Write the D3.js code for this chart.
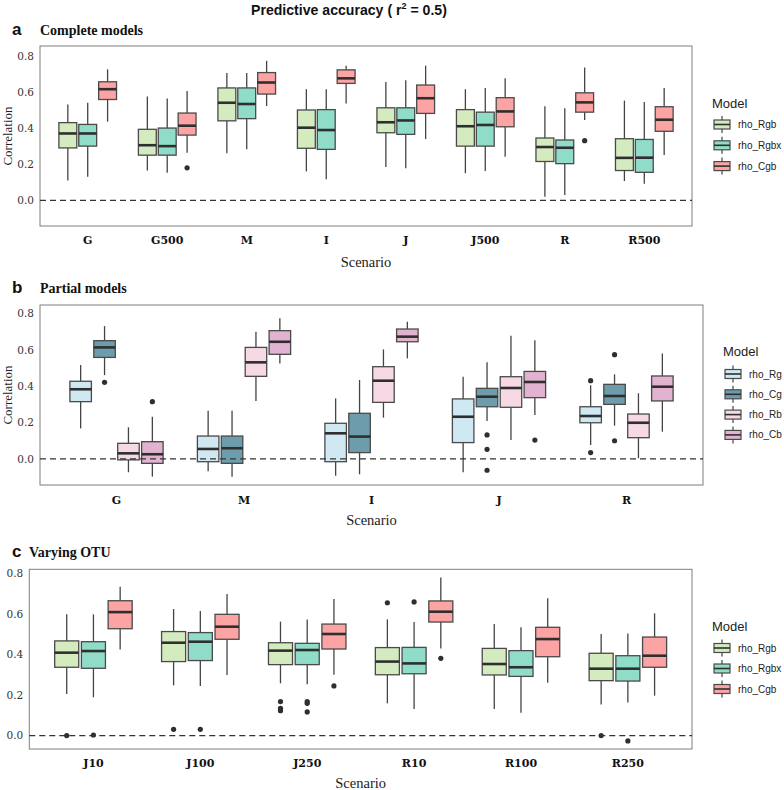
<!DOCTYPE html>
<html>
<head>
<meta charset="utf-8">
<script src="https://cdn.jsdelivr.net/npm/d3@7"></script>
<style>
  html, body { margin: 0; padding: 0; background: #fff; }
  svg { display: block; }
</style>
</head>
<body>
<svg id="chart" width="784" height="790"></svg>
<script>
// ---------------- DATA ----------------
// each box: [min whisker, q1, median, q3, max whisker]
const catsA = ["G", "G500", "M", "I", "J", "J500", "R", "R500"];
const modelsA = ["rho_Rgb", "rho_Rgbx", "rho_Cgb"];
const aRgb = [[0.11,0.29,0.37,0.43,0.53],[0.165,0.25,0.305,0.393,0.575],[0.26,0.44,0.54,0.622,0.705],[0.16,0.288,0.402,0.50,0.615],[0.185,0.374,0.432,0.512,0.655],[0.15,0.30,0.41,0.502,0.615],[0.02,0.215,0.295,0.345,0.52],[0.107,0.165,0.235,0.341,0.552]];
const aRgbx = [[0.13,0.30,0.37,0.42,0.54],[0.153,0.25,0.30,0.40,0.563],[0.282,0.452,0.533,0.622,0.705],[0.116,0.282,0.389,0.502,0.615],[0.177,0.365,0.442,0.512,0.665],[0.162,0.30,0.417,0.488,0.622],[0.029,0.203,0.291,0.334,0.509],[0.092,0.155,0.236,0.337,0.544]];
const aCgb = [[0.435,0.558,0.615,0.656,0.725],[0.264,0.361,0.413,0.483,0.605],[0.522,0.588,0.652,0.707,0.772],[0.536,0.647,0.675,0.722,0.745],[0.339,0.481,0.565,0.638,0.745],[0.241,0.407,0.492,0.568,0.675],[0.444,0.488,0.542,0.595,0.735],[0.251,0.382,0.446,0.518,0.622]];
const aRgbOut = [[],[],[],[],[],[],[],[]];
const aRgbxOut = [[],[],[],[],[],[],[],[]];
const aCgbOut = [[],[0.18],[],[],[],[],[0.33],[]];

const catsB = ["G", "M", "I", "J", "R"];
const modelsB = ["rho_Rg", "rho_Cg", "rho_Rb", "rho_Cb"];
const bRg = [[0.168,0.315,0.383,0.427,0.516],[-0.068,-0.015,0.055,0.126,0.265],[-0.092,-0.015,0.141,0.196,0.333],[-0.073,0.09,0.232,0.33,0.452],[0.077,0.199,0.236,0.287,0.405]];
const bCg = [[0.461,0.558,0.613,0.65,0.73],[-0.097,-0.024,0.059,0.126,0.265],[-0.084,0.035,0.123,0.251,0.434],[0.209,0.287,0.342,0.388,0.531],[0.183,0.30,0.346,0.41,0.465]];
const bRb = [[-0.073,-0.005,0.031,0.086,0.174],[0.319,0.454,0.531,0.613,0.699],[0.227,0.311,0.43,0.507,0.602],[0.104,0.284,0.39,0.452,0.677],[0.004,0.117,0.199,0.247,0.361]];
const bCb = [[-0.097,-0.024,0.026,0.095,0.232],[0.525,0.575,0.644,0.705,0.773],[0.553,0.644,0.672,0.714,0.754],[0.242,0.337,0.423,0.481,0.652],[0.15,0.319,0.397,0.456,0.58]];
const bRgOut = [[],[],[],[],[0.43,0.035]];
const bCgOut = [[0.421],[],[],[0.132,0.053,-0.062],[0.573,0.10]];
const bRbOut = [[],[],[],[],[]];
const bCbOut = [[0.315],[],[],[0.104],[]];

const catsC = ["J10", "J100", "J250", "R10", "R100", "R250"];
const modelsC = ["rho_Rgb", "rho_Rgbx", "rho_Cgb"];
const cRgb = [[0.205,0.337,0.409,0.467,0.598],[0.248,0.365,0.458,0.513,0.624],[0.258,0.35,0.419,0.458,0.562],[0.159,0.30,0.365,0.434,0.573],[0.131,0.299,0.353,0.43,0.55],[0.154,0.271,0.33,0.406,0.501]];
const cRgbx = [[0.189,0.332,0.417,0.463,0.598],[0.245,0.37,0.463,0.508,0.614],[0.253,0.35,0.422,0.455,0.573],[0.131,0.305,0.356,0.435,0.56],[0.113,0.292,0.337,0.419,0.534],[0.163,0.269,0.33,0.394,0.504]];
const cCgb = [[0.425,0.527,0.609,0.665,0.734],[0.299,0.475,0.537,0.598,0.698],[0.30,0.427,0.501,0.55,0.673],[0.43,0.56,0.611,0.664,0.78],[0.261,0.389,0.476,0.534,0.677],[0.197,0.337,0.394,0.486,0.603]];
const cRgbOut = [[0.0],[0.031],[0.168,0.135,0.123],[0.655],[],[0.0]];
const cRgbxOut = [[0.003],[0.031],[0.168,0.159,0.117],[0.659],[],[-0.026]];
const cCgbOut = [[],[],[0.245],[0.381],[],[]];

const yTicks = [0.0, 0.2, 0.4, 0.6, 0.8];
const coloursA = ["#d4ebc0", "#8fdcc8", "#fca3a3"];
const coloursB = ["#cfe8f2", "#6d9dac", "#f7d9e6", "#e2b3d0"];

// ---------------- DRAW ----------------
const svg = d3.select("#chart");
const serif = "'Liberation Serif', serif";
const serifWide = "'DejaVu Serif', serif";
const sans = "'Liberation Sans', Arial, sans-serif";

// title
const tg = svg.append("g");
const tt = tg.append("text").attr("x", 0).attr("y", 0)
  .attr("font-family", sans).attr("font-weight", "bold").attr("font-size", 14).attr("fill", "#111");
tt.append("tspan").text("Predictive accuracy ( r");
tt.append("tspan").attr("font-size", 9).attr("dy", -6).text("2");
tt.append("tspan").attr("dy", 6).text(" = 0.5)");
const tw = tt.node().getComputedTextLength();
const sx = 196 / tw;
tg.attr("transform", `translate(${349 - 98},15) scale(${sx},1)`);

function panel(cfg) {
  const g = svg.append("g");
  const x = d3.scaleBand().domain(cfg.cats).range([cfg.x0, cfg.x1]).paddingInner(0).paddingOuter(0.1);
  const y = d3.scaleLinear().domain(cfg.ydom).range([cfg.y1, cfg.y0]);
  const step = x.step();
  const sub = d3.scaleBand().domain(cfg.models).range([-0.375 * step, 0.375 * step]).paddingInner(0.1).paddingOuter(0.05);

  // panel letter + subtitle
  g.append("text").attr("x", 12).attr("y", cfg.labY).attr("font-family", sans).attr("font-weight", "bold")
    .attr("font-size", 17).attr("fill", "#111").text(cfg.letter);
  g.append("text").attr("x", cfg.subX).attr("y", cfg.labY).attr("font-family", serif).attr("font-weight", "bold")
    .attr("font-size", 14).attr("fill", "#111").text(cfg.subtitle);

  // frame
  g.append("rect").attr("x", cfg.x0).attr("y", cfg.y0).attr("width", cfg.x1 - cfg.x0).attr("height", cfg.y1 - cfg.y0)
    .attr("fill", "none").attr("stroke", "#7f7f7f").attr("stroke-width", 1);

  // y axis
  const ya = d3.axisLeft(y).tickValues(yTicks).tickFormat(d3.format(".1f")).tickSize(0).tickPadding(6);
  const yg = g.append("g").attr("transform", `translate(${cfg.x0},0)`).call(ya);
  yg.select(".domain").remove();
  yg.selectAll("text").attr("font-family", serifWide).attr("font-size", 10.5).attr("fill", "#333");

  // x axis
  const xa = d3.axisBottom(x).tickSize(0).tickPadding(0);
  const xg = g.append("g").attr("transform", `translate(0,${cfg.catY})`).call(xa);
  xg.select(".domain").remove();
  xg.selectAll("text").attr("dy", 0).attr("font-family", serifWide).attr("font-weight", "bold")
    .attr("font-size", 11).attr("fill", "#111");

  g.append("text").attr("x", (cfg.x0 + cfg.x1) / 2).attr("y", cfg.scenY).attr("text-anchor", "middle")
    .attr("font-family", serif).attr("font-size", 14.5).attr("fill", "#222").text("Scenario");
  if (cfg.ylabel) {
    g.append("text").attr("transform", `translate(12,${(cfg.y0 + cfg.y1) / 2}) rotate(-90)`)
      .attr("text-anchor", "middle").attr("font-family", serif).attr("font-size", 13).attr("fill", "#222")
      .text("Correlation");
  }

  // boxes
  cfg.models.forEach((m, mi) => {
    const series = cfg.series[mi];
    const outs = cfg.outliers[mi];
    cfg.cats.forEach((c, ci) => {
      const s = series[ci];
      const cx = x(c) + step / 2 + sub(m) + sub.bandwidth() / 2;
      const bw = sub.bandwidth();
      const bg = g.append("g");
      bg.append("line").attr("x1", cx).attr("x2", cx).attr("y1", y(s[4])).attr("y2", y(s[3]))
        .attr("stroke", "#444").attr("stroke-width", 1.3);
      bg.append("line").attr("x1", cx).attr("x2", cx).attr("y1", y(s[1])).attr("y2", y(s[0]))
        .attr("stroke", "#444").attr("stroke-width", 1.3);
      bg.append("rect").attr("x", cx - bw / 2).attr("y", y(s[3])).attr("width", bw)
        .attr("height", y(s[1]) - y(s[3])).attr("fill", cfg.colours[mi])
        .attr("stroke", "#4a4a4a").attr("stroke-width", 1.3);
      bg.append("line").attr("x1", cx - bw / 2).attr("x2", cx + bw / 2).attr("y1", y(s[2])).attr("y2", y(s[2]))
        .attr("stroke", "#2f2f2f").attr("stroke-width", 2.6);
      outs[ci].forEach(v => {
        bg.append("circle").attr("cx", cx).attr("cy", y(v)).attr("r", 2.6).attr("fill", "#2f2f2f");
      });
    });
  });

  // dashed zero line
  g.append("line").attr("x1", cfg.x0).attr("x2", cfg.x1).attr("y1", y(0)).attr("y2", y(0))
    .attr("stroke", "#333").attr("stroke-width", 1.2).attr("stroke-dasharray", "6,4");

  // legend
  const lg = g.append("g");
  lg.append("text").attr("x", cfg.legX - 2).attr("y", cfg.legTitleY + 4.5).attr("font-family", sans)
    .attr("font-size", 13).attr("fill", "#222").text("Model");
  cfg.models.forEach((m, mi) => {
    const ky = cfg.legY0 + mi * cfg.legStep;
    const kx = cfg.legX;
    lg.append("line").attr("x1", kx + 8).attr("x2", kx + 8).attr("y1", ky - 8.5).attr("y2", ky + 8.5)
      .attr("stroke", "#444").attr("stroke-width", 1.2);
    lg.append("rect").attr("x", kx).attr("y", ky - 4.5).attr("width", 16).attr("height", 9)
      .attr("fill", cfg.colours[mi]).attr("stroke", "#4a4a4a").attr("stroke-width", 1.2);
    lg.append("line").attr("x1", kx).attr("x2", kx + 16).attr("y1", ky).attr("y2", ky)
      .attr("stroke", "#2f2f2f").attr("stroke-width", 1.6);
    lg.append("text").attr("x", kx + 24).attr("y", ky + 3.5).attr("font-family", sans)
      .attr("font-size", 10).attr("fill", "#222").text(m);
  });
}

panel({
  letter: "a", subtitle: "Complete models", labY: 35, subX: 40,
  cats: catsA, models: modelsA, series: [aRgb, aRgbx, aCgb], outliers: [aRgbOut, aRgbxOut, aCgbOut],
  colours: coloursA, x0: 40, x1: 692, y0: 46, y1: 226, ydom: [-0.142, 0.854],
  catY: 244, scenY: 266.5, ylabel: true,
  legX: 714, legTitleY: 103, legY0: 124.5, legStep: 20.8
});
panel({
  letter: "b", subtitle: "Partial models", labY: 293, subX: 40,
  cats: catsB, models: modelsB, series: [bRg, bCg, bRb, bCb], outliers: [bRgOut, bCgOut, bRbOut, bCbOut],
  colours: coloursB, x0: 40, x1: 703, y0: 305, y1: 485, ydom: [-0.143, 0.846],
  catY: 503.5, scenY: 525, ylabel: true,
  legX: 725, legTitleY: 351, legY0: 374, legStep: 20.3
});
panel({
  letter: "c", subtitle: "Varying OTU", labY: 557, subX: 29,
  cats: catsC, models: modelsC, series: [cRgb, cRgbx, cCgb], outliers: [cRgbOut, cRgbxOut, cCgbOut],
  colours: coloursA, x0: 29.3, x1: 692, y0: 569.3, y1: 749, ydom: [-0.066, 0.82],
  catY: 767, scenY: 788, ylabel: false,
  legX: 714, legTitleY: 626, legY0: 648, legStep: 20.5
});
</script>
</body>
</html>
